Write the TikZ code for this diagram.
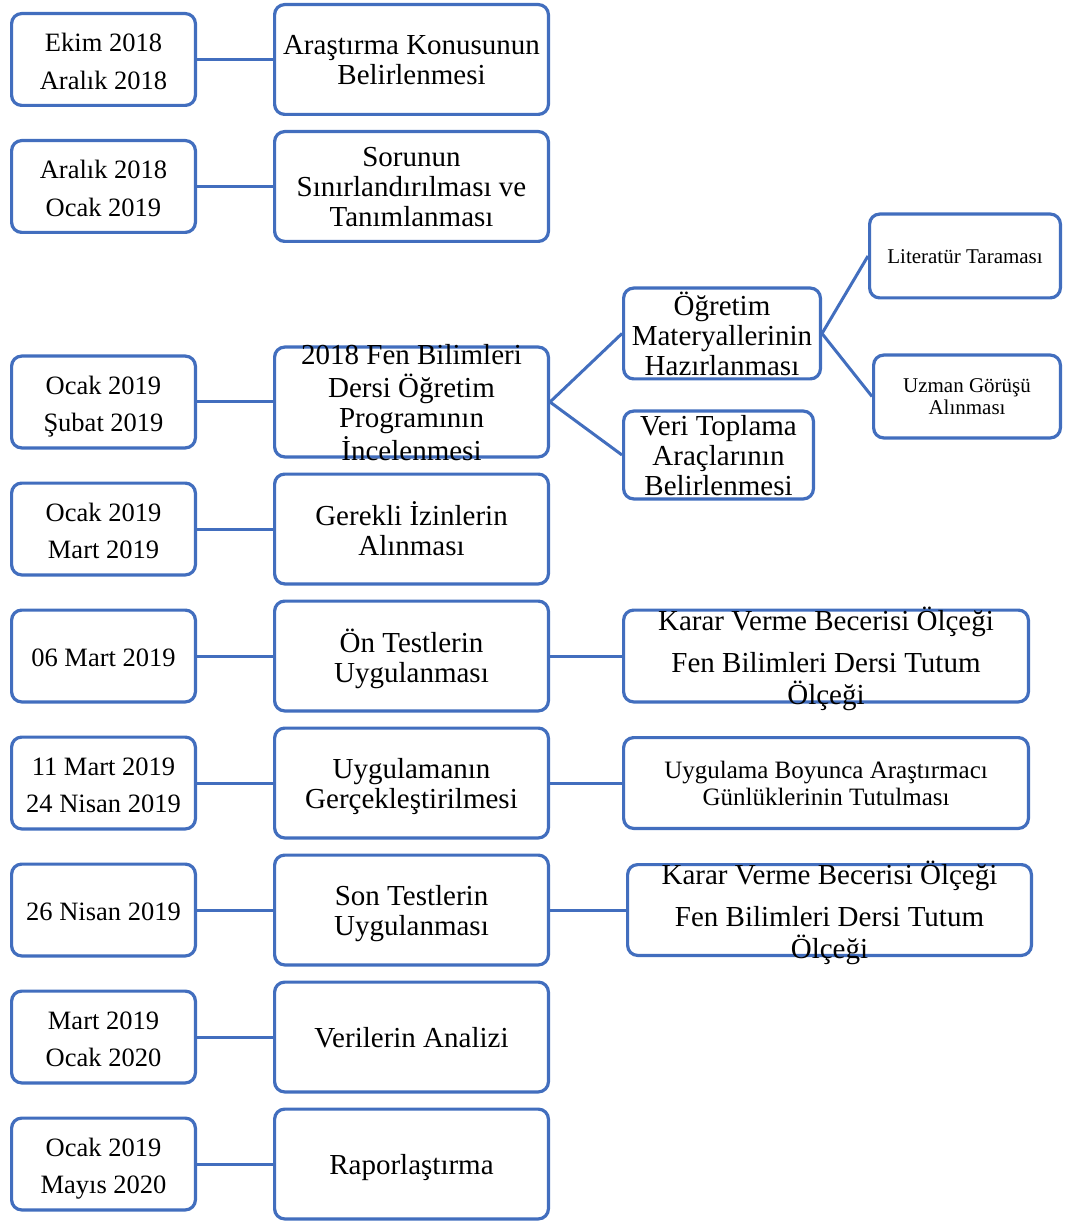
\documentclass[tikz,border=0pt]{standalone}
\usepackage{fontspec}
\setmainfont{Liberation Serif}
\usepackage{tikz}
\usetikzlibrary{positioning}
\definecolor{boxblue}{RGB}{66,110,190}
\def\boxtext#1{\smash{\raisebox{-0.4em}{\begin{tabular}{@{}c@{}}#1\end{tabular}}}}
\tikzstyle{roundbox} = [draw=boxblue, line width=1.6pt, rounded corners=5pt, fill=white, inner sep=0pt]
\tikzstyle{datebox} = [roundbox, minimum width=91.9pt, minimum height=45.9pt, font=\fontsize{13.25}{18.75}\selectfont]
\tikzstyle{stepbox} = [roundbox, minimum width=136.9pt, minimum height=54.9pt, font=\fontsize{14.5}{15}\selectfont]
\tikzstyle{subbox} = [roundbox, font=\fontsize{14.5}{15}\selectfont]
\tikzstyle{smallbox} = [roundbox, font=\fontsize{10.5}{11}\selectfont]
\tikzstyle{link} = [draw=boxblue, line width=1.5pt]

\begin{document}
\begin{tikzpicture}[x=0.5pt,y=-0.5pt]
            \useasboundingbox (0,0) rectangle (1064,1224);

            % dates
            \node[datebox] (d1) at (103.5,59.5) {\boxtext{Ekim 2018\\Aralık 2018}};
            \node[datebox, below=16pt of d1] (d2) {\boxtext{Aralık 2018\\Ocak 2019}};
            \node[datebox, below=60.25pt of d2] (d3) {\boxtext{Ocak 2019\\Şubat 2019}};
            \node[datebox, below=16pt of d3] (d4) {\boxtext{Ocak 2019\\Mart 2019}};
            \node[datebox, below=16pt of d4] (d5) {\boxtext{06 Mart 2019}};
            \node[datebox, below=16pt of d5] (d6) {\boxtext{11 Mart 2019\\24 Nisan 2019}};
            \node[datebox, below=16pt of d6] (d7) {\boxtext{26 Nisan 2019}};
            \node[datebox, below=16pt of d7] (d8) {\boxtext{Mart 2019\\Ocak 2020}};
            \node[datebox, below=16pt of d8] (d9) {\boxtext{Ocak 2019\\Mayıs 2020}};

            % steps
            \node[stepbox, right=38pt of d1] (s1) {\boxtext{Araştırma Konusunun\\Belirlenmesi}};
            \node[stepbox, right=38pt of d2] (s2) {\boxtext{Sorunun\\Sınırlandırılması ve\\Tanımlanması}};
            \node[stepbox, right=38pt of d3] (s3) {\boxtext{2018 Fen Bilimleri\\Dersi Öğretim\\Programının\\İncelenmesi}};
            \node[stepbox, right=38pt of d4] (s4) {\boxtext{Gerekli İzinlerin\\Alınması}};
            \node[stepbox, right=38pt of d5] (s5) {\boxtext{Ön Testlerin\\Uygulanması}};
            \node[stepbox, right=38pt of d6] (s6) {\boxtext{Uygulamanın\\Gerçekleştirilmesi}};
            \node[stepbox, right=38pt of d7] (s7) {\boxtext{Son Testlerin\\Uygulanması}};
            \node[stepbox, right=38pt of d8] (s8) {\boxtext{Verilerin Analizi}};
            \node[stepbox, right=38pt of d9] (s9) {\boxtext{Raporlaştırma}};

            % sub steps
            \node[subbox, minimum width=98.4pt, minimum height=45.4pt, right=36pt of s3, yshift=34.25pt] (o1) {\boxtext{Öğretim\\Materyallerinin\\Hazırlanması}};
            \node[subbox, minimum width=94.9pt, minimum height=43.9pt, right=36pt of s3, yshift=-26.5pt] (o2) {\boxtext{Veri Toplama\\Araçlarının\\Belirlenmesi}};
            \node[smallbox, minimum width=95.4pt, minimum height=41.9pt, right=23pt of o1, yshift=38.75pt] (lit) {\boxtext{Literatür Taraması}};
            \node[smallbox, minimum width=93.4pt, minimum height=41.4pt, right=25pt of o1, yshift=-31.5pt] (uzm) {\boxtext{Uzman Görüşü\\Alınması}};
            \node[subbox, minimum width=202.4pt, minimum height=45.9pt, right=36pt of s5] (k1) {\boxtext{Karar Verme Becerisi Ölçeği\\[6pt]Fen Bilimleri Dersi Tutum\\Ölçeği}};
            \node[roundbox, minimum width=202.4pt, minimum height=45.4pt, right=36pt of s6, font=\fontsize{12.5}{13.5}\selectfont] (g1) {\boxtext{Uygulama Boyunca Araştırmacı\\Günlüklerinin Tutulması}};
            \node[subbox, minimum width=201.9pt, minimum height=45.4pt, right=38pt of s7] (k2) {\boxtext{Karar Verme Becerisi Ölçeği\\[6pt]Fen Bilimleri Dersi Tutum\\Ölçeği}};

            \foreach \i in {1,...,9}
                \draw[link] (d\i) -- (s\i);
            \draw[link] (s3.east) -- (o1.west);
            \draw[link] (s3.east) -- (o2.west);
            \draw[link] (o1.east) -- (lit.west);
            \draw[link] (o1.east) -- (uzm.west);
            \draw[link] (s5) -- (k1);
            \draw[link] (s6) -- (g1);
            \draw[link] (s7) -- (k2);
\end{tikzpicture}
\end{document}
